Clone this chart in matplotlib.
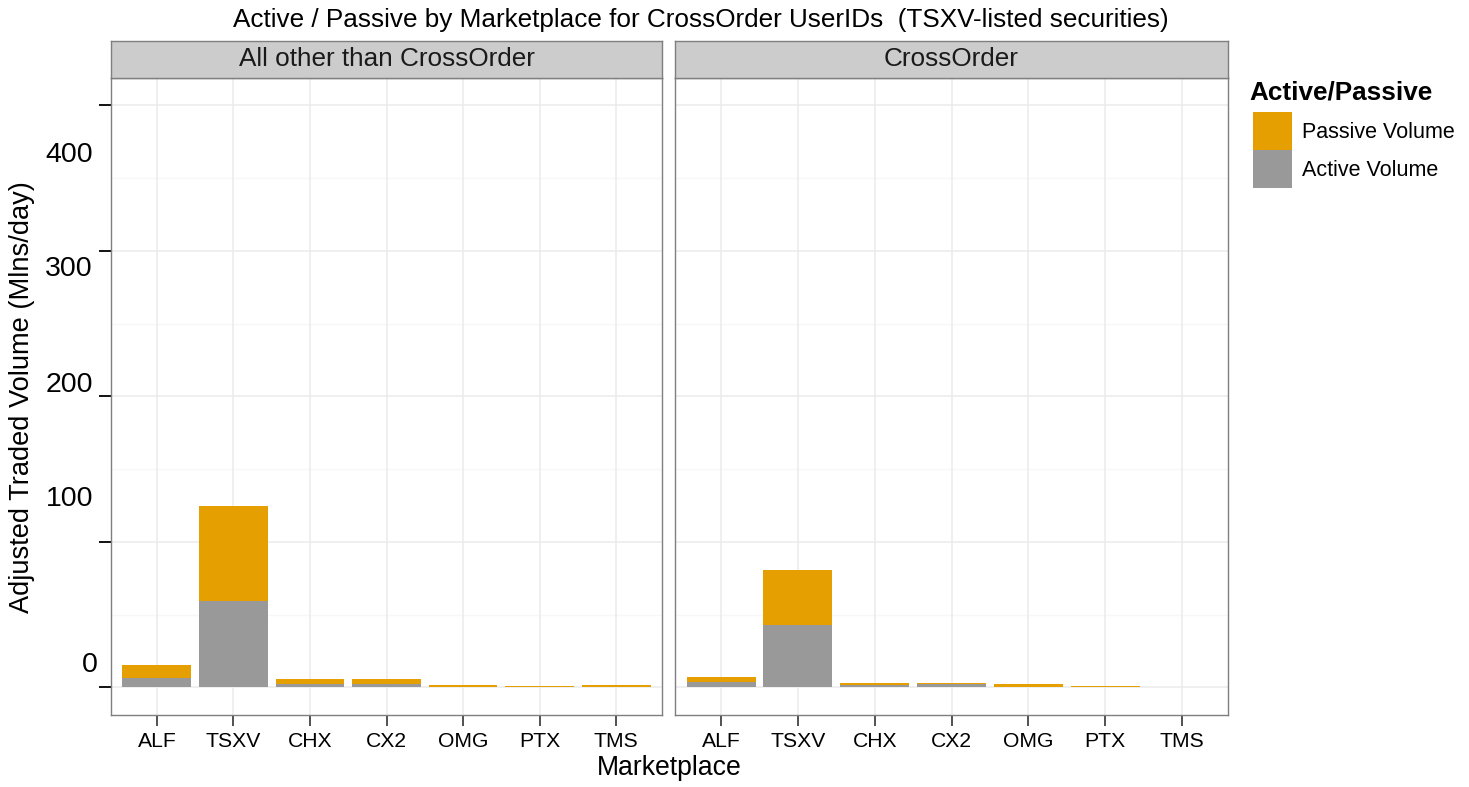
#!/usr/bin/env python3
# -*- coding: utf-8 -*-

import numpy as np
import matplotlib
matplotlib.use("Agg")
import matplotlib.pyplot as plt
from matplotlib.patches import Rectangle

# ================= DATA =================
MARKETS = ["ALF", "TSXV", "CHX", "CX2", "OMG", "PTX", "TMS"]
PANELS = ["All other than CrossOrder", "CrossOrder"]

# Mlns/day
OTHER_ACTIVE = [6.4, 59.1, 2.1, 2.1, 0.3, 0.5, 0.2]
OTHER_PASSIVE = [8.7, 65.3, 3.4, 3.4, 1.3, 0.1, 1.2]
CROSS_ACTIVE = [3.9, 42.6, 1.4, 2.2, 0.4, 0.2, 0.0]
CROSS_PASSIVE = [3.4, 37.8, 1.6, 0.9, 1.8, 1.0, 0.0]

Y_TICKS = [0, 100, 200, 300, 400]

# ================= STYLE =================
W, H = 1469, 787
DPI = 100
ORANGE = "#E69F00"
GREY = "#999999"
GRID_MAJOR = "#EBEBEB"
GRID_MINOR = "#F7F7F7"
BORDER = "#7F7F7F"
STRIP = "#CCCCCC"

plt.rcParams["font.family"] = ["Liberation Sans", "DejaVu Sans"]


def px(x, y):
    """pixel -> figure coords"""
    return x / W, 1 - y / H


fig = plt.figure(figsize=(W / DPI, H / DPI), dpi=DPI)

# panel geometry in pixels (left, right)
panel_x = [(111, 662), (675, 1228)]
top_px, bot_px = 78, 715
strip_top = 41

data = [(OTHER_ACTIVE, OTHER_PASSIVE), (CROSS_ACTIVE, CROSS_PASSIVE)]
x = np.arange(1, len(MARKETS) + 1)

for i, ((l, r), (act, pas)) in enumerate(zip(panel_x, data)):
    ax = fig.add_axes([l / W, 1 - bot_px / H, (r - l) / W, (bot_px - top_px) / H])
    ax.set_xlim(0.4, 7.6)
    ax.set_ylim(-19.0, 418.8)

    # grid
    for yv in [50, 150, 250, 350]:
        ax.axhline(yv, color=GRID_MINOR, lw=1.0, zorder=0)
    for yv in Y_TICKS:
        ax.axhline(yv, color=GRID_MAJOR, lw=1.1, zorder=0)
    for xv in x:
        ax.axvline(xv, color=GRID_MAJOR, lw=1.1, zorder=0)

    ax.bar(x, act, width=0.9, color=GREY, zorder=2)
    ax.bar(x, pas, width=0.9, bottom=act, color=ORANGE, zorder=2)

    for s in ax.spines.values():
        s.set_color(BORDER)
        s.set_linewidth(1.0)

    ax.set_xticks(x)
    ax.set_xticklabels(MARKETS, fontsize=15.2)
    ax.tick_params(axis="x", length=8, width=1.1, color="#222222", pad=4)
    ax.set_yticks(Y_TICKS)
    if i == 0:
        ax.set_yticklabels([])
        ax.tick_params(axis="y", length=8.6, width=1.4, color="#111111")
        # the y tick labels sit oddly off their ticks in the original
        label_px = {400: (93, 155), 300: (93, 269), 200: (93, 385),
                    100: (93, 499), 0: (98, 665)}
        for v in Y_TICKS:
            lx, ly = label_px[v]
            fx, fy = px(lx, ly)
            fig.text(fx, fy, str(v), fontsize=20.5, ha="right", va="center")
    else:
        ax.tick_params(axis="y", length=0, labelleft=False)

    # strip
    sax = fig.add_axes([l / W, 1 - top_px / H, (r - l) / W, (top_px - strip_top) / H])
    sax.set_facecolor(STRIP)
    sax.set_xticks([])
    sax.set_yticks([])
    for s in sax.spines.values():
        s.set_color(BORDER)
        s.set_linewidth(1.0)
    sax.text(0.5, 0.5, PANELS[i], fontsize=18.8, ha="center", va="center",
             transform=sax.transAxes, color="#1A1A1A")

# title and axis titles
fx, fy = px(701, 20)
fig.text(fx, fy, "Active / Passive by Marketplace for CrossOrder UserIDs  (TSXV-listed securities)",
         fontsize=18.8, ha="center", va="center")
fx, fy = px(669, 768)
fig.text(fx, fy, "Marketplace", fontsize=19.2, ha="center", va="center")
fx, fy = px(22, 397)
fig.text(fx, fy, "Adjusted Traded Volume (Mlns/day)", fontsize=19.6, rotation=90,
         ha="center", va="center")

# legend (manual, ggplot style)
fx, fy = px(1249, 92)
fig.text(fx, fy, "Active/Passive", fontsize=18.8, fontweight="bold", ha="left", va="center")
for label, color, y0 in [("Passive Volume", ORANGE, 112), ("Active Volume", GREY, 150)]:
    fx, fy = px(1253, y0 + 38)
    fig.add_artist(Rectangle((fx, fy), 39 / W, 38 / H, transform=fig.transFigure,
                             facecolor=color, edgecolor="none"))
    fx, fy = px(1302, y0 + 21)
    fig.text(fx, fy, label, fontsize=15.5, ha="left", va="center")

fig.savefig("out.png", dpi=DPI)
